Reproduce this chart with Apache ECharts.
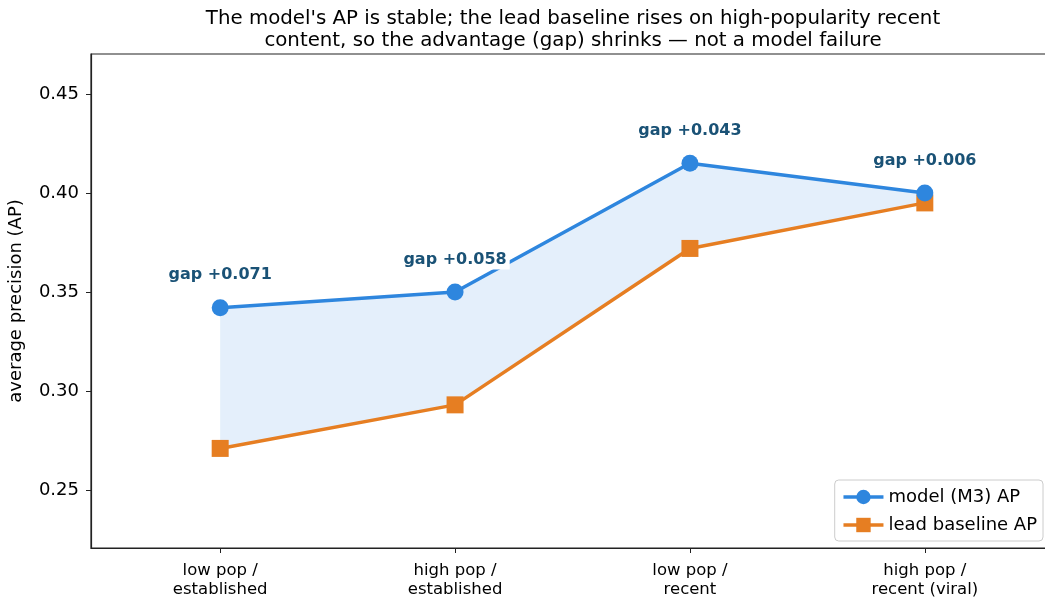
<!DOCTYPE html>
<html><head><meta charset="utf-8">
<script src="https://cdn.jsdelivr.net/npm/echarts@6/dist/echarts.min.js"></script>
<style>html,body{margin:0;padding:0;background:#fff}#c{width:1045px;height:598px}</style>
</head><body><div id="c"></div>
<script>
const categories = ['low pop /\nestablished', 'high pop /\nestablished', 'low pop /\nrecent', 'high pop /\nrecent (viral)'];
const modelAP = [0.342, 0.350, 0.415, 0.400];
const baselineAP = [0.271, 0.293, 0.372, 0.395];
const gapLabels = ['+0.071', '+0.058', '+0.043', '+0.006'];
const yTicks = [0.25, 0.30, 0.35, 0.40, 0.45];
const xTicks = [0, 1, 2, 3];

const BLUE = '#2e86de', ORANGE = '#e67e22', FONT = 'DejaVu Sans';
const chart = echarts.init(document.getElementById('c'), null, {renderer: 'canvas'});
chart.setOption({
  animation: false,
  backgroundColor: '#fff',
  textStyle: {fontFamily: FONT},
  title: {
    text: "The model's AP is stable; the lead baseline rises on high-popularity recent\ncontent, so the advantage (gap) shrinks \u2014 not a model failure",
    left: 568, top: 3, textAlign: 'center',
    textStyle: {fontFamily: FONT, fontSize: 19.8, fontWeight: 'normal', color: '#000', lineHeight: 22}
  },
  grid: {left: 91, width: 963, top: 54, height: 494, outerBoundsMode: 'none', containLabel: false,
    show: true, borderColor: '#222', borderWidth: 1.2, backgroundColor: 'transparent'},
  legend: {
    right: 2, bottom: 57, orient: 'vertical', itemGap: 10, itemWidth: 40, itemHeight: 18,
    backgroundColor: '#fff', borderColor: '#ccc', borderWidth: 1, borderRadius: 4, padding: [8, 6, 7, 7],
    textStyle: {fontFamily: FONT, fontSize: 18, color: '#000'},
    lineStyle: {width: 3.5},
    data: ['model (M3) AP', 'lead baseline AP']
  },
  xAxis: {
    type: 'value', min: -0.55, max: 3.55,
    splitLine: {show: false},
    axisLine: {onZero: false, lineStyle: {color: '#222', width: 1.2}},
    axisTick: {show: true, length: 5, customValues: xTicks, lineStyle: {color: '#222'}},
    axisLabel: {customValues: xTicks, margin: 13, fontFamily: FONT, fontSize: 16.5, color: '#000', lineHeight: 19,
      formatter: v => categories[Math.round(v)] || ''}
  },
  yAxis: {
    type: 'value', min: 0.2207, max: 0.4702,
    name: 'average precision (AP)', nameLocation: 'middle', nameGap: 66,
    nameTextStyle: {fontFamily: FONT, fontSize: 18, color: '#000'},
    splitLine: {show: false},
    axisLine: {show: true, onZero: false, lineStyle: {color: '#222', width: 1.2}},
    axisTick: {show: true, length: 5, customValues: yTicks, lineStyle: {color: '#222'}},
    axisLabel: {customValues: yTicks, margin: 12, fontFamily: FONT, fontSize: 18, color: '#000',
      formatter: v => v.toFixed(2)}
  },
  series: [
    {
      type: 'custom', z: 1, silent: true,
      data: [[0]],
      renderItem: (params, api) => {
        const pts = [];
        modelAP.forEach((v, i) => pts.push(api.coord([i, v])));
        for (let i = baselineAP.length - 1; i >= 0; i--) pts.push(api.coord([i, baselineAP[i]]));
        return {type: 'polygon', shape: {points: pts}, style: {fill: 'rgba(46,134,222,0.13)'}};
      }
    },
    {
      name: 'lead baseline AP', type: 'line', z: 3,
      data: baselineAP.map((v, i) => [i, v]),
      symbol: 'rect', symbolSize: 17,
      lineStyle: {color: ORANGE, width: 3.5}, itemStyle: {color: ORANGE}
    },
    {
      name: 'model (M3) AP', type: 'line', z: 4,
      data: modelAP.map((v, i) => [i, v]),
      symbol: 'circle', symbolSize: 17,
      lineStyle: {color: BLUE, width: 3.5}, itemStyle: {color: BLUE},
      label: {
        show: true, position: 'top', distance: 14,
        formatter: p => 'gap ' + gapLabels[p.dataIndex],
        fontFamily: FONT, fontSize: 16, fontWeight: 'bold', color: '#1a5276',
        backgroundColor: '#fff', padding: [2, 3, 2, 3]
      }
    }
  ]
});
</script></body></html>
